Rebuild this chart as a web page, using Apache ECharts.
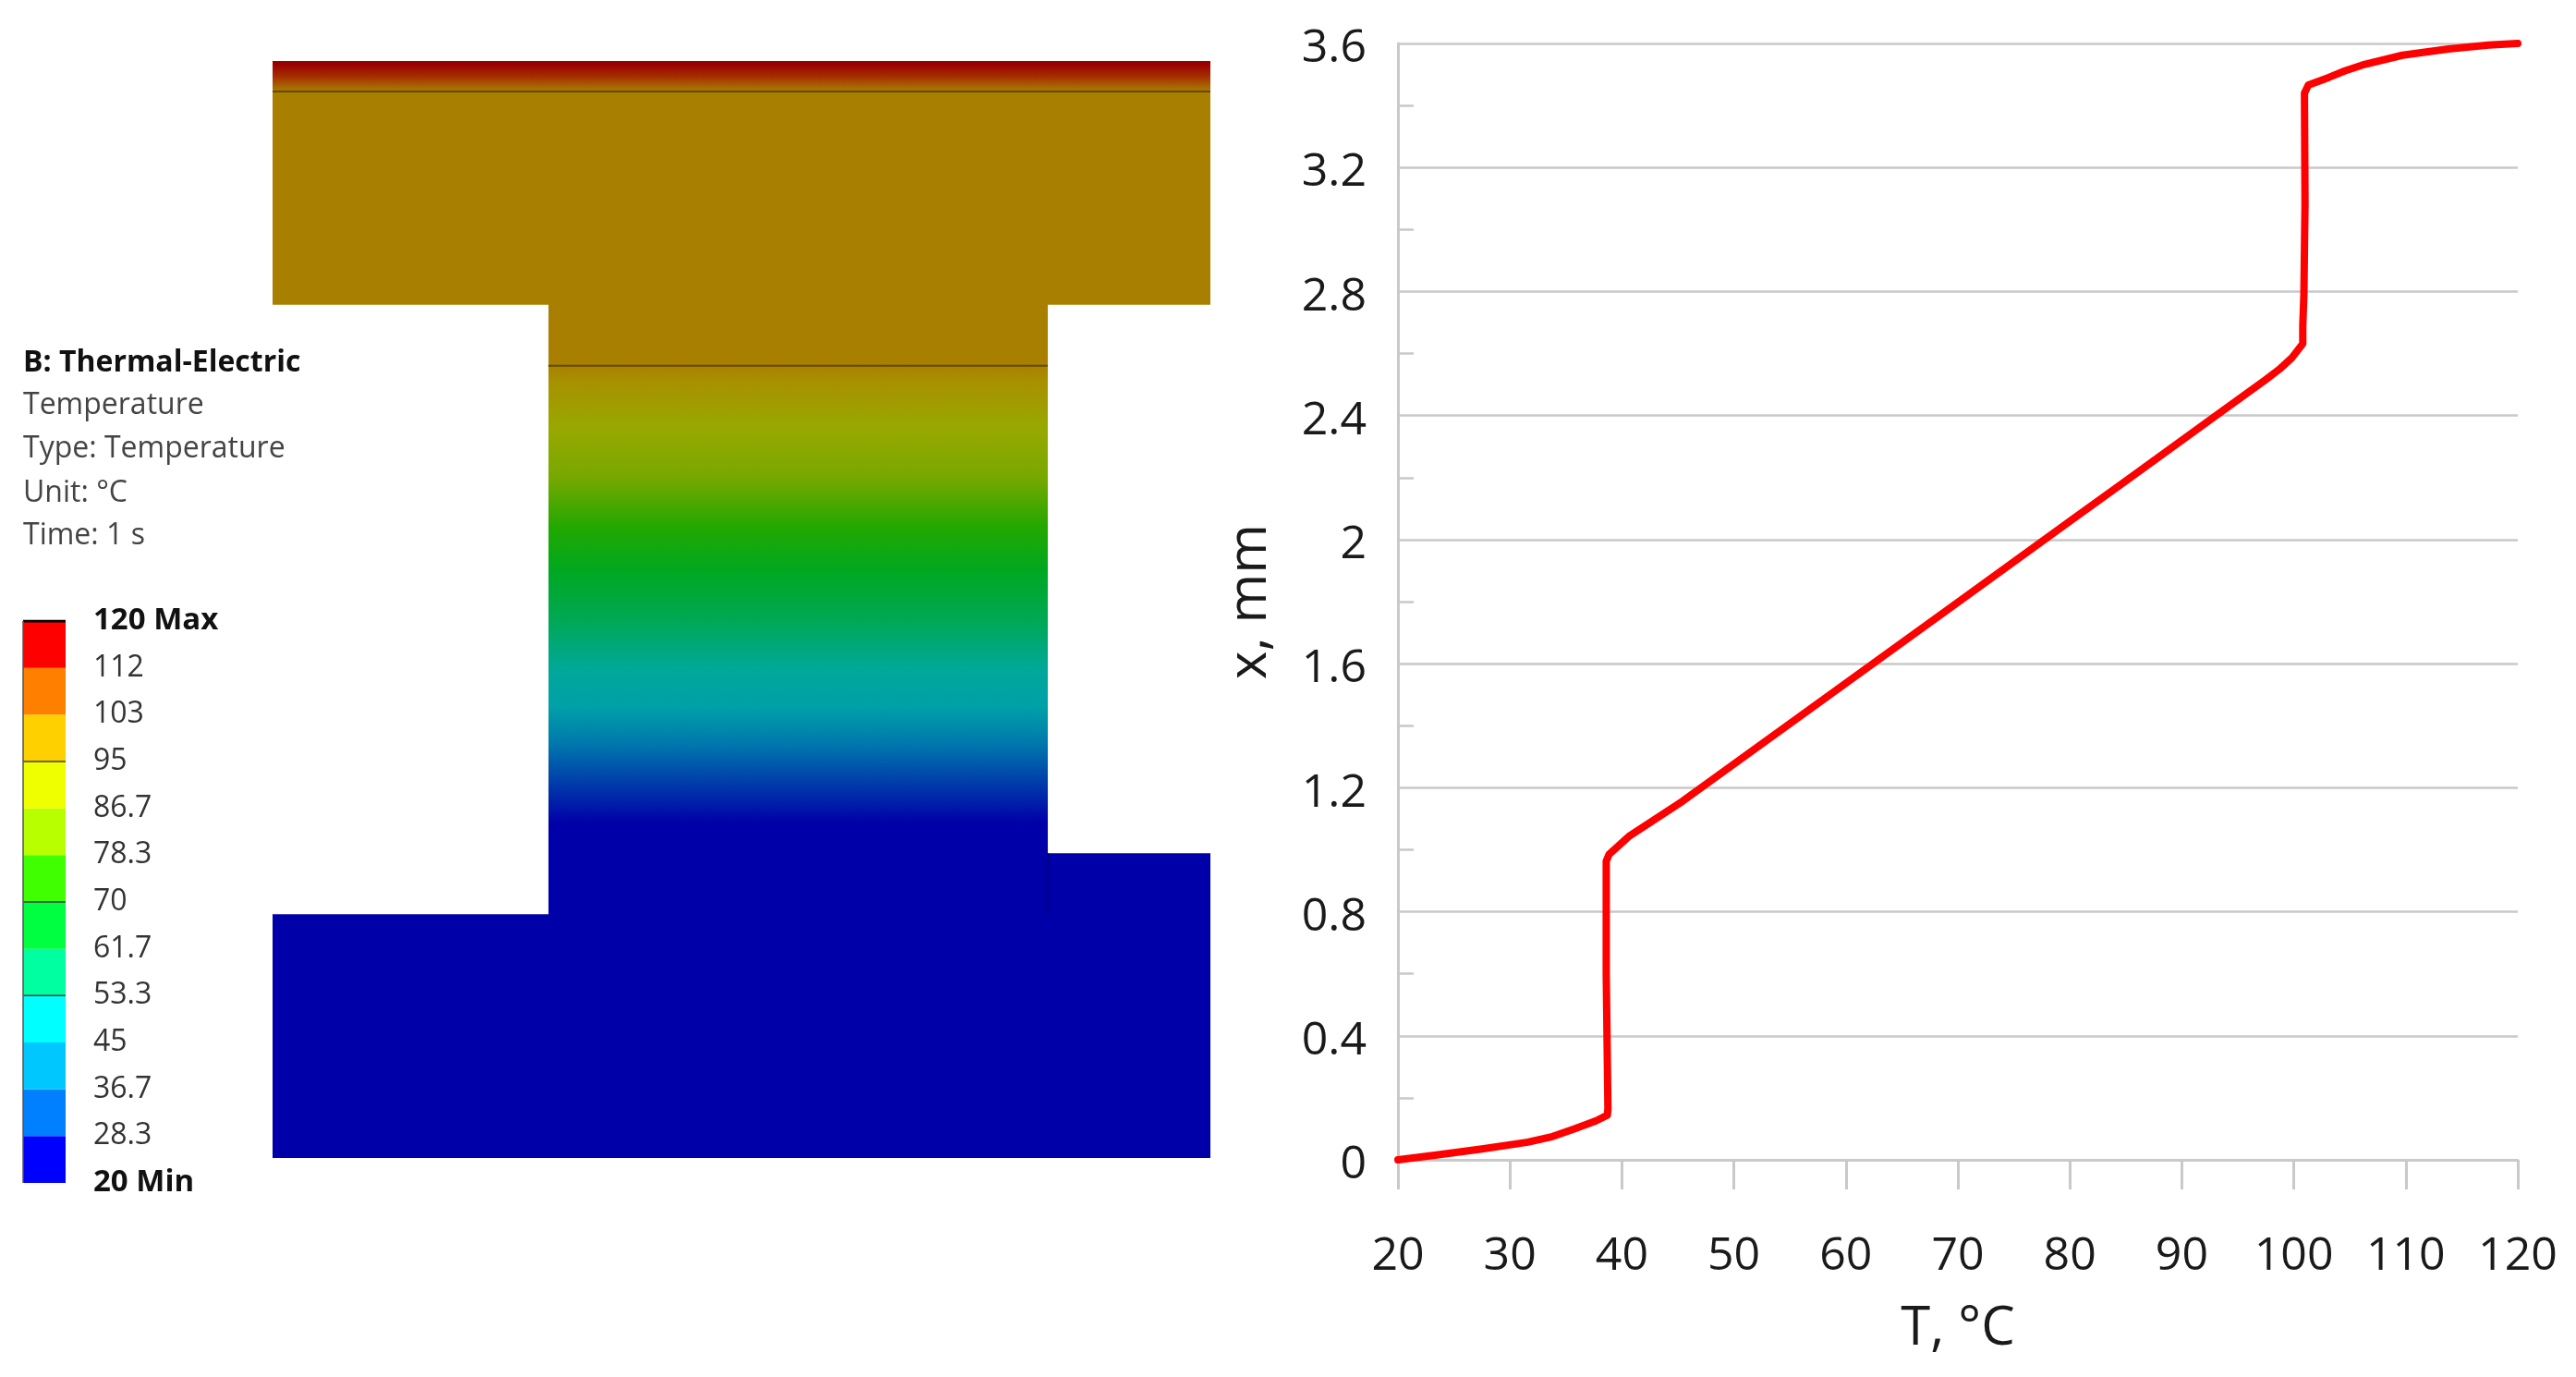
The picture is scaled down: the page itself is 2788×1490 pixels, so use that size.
<!DOCTYPE html>
<html>
<head>
    <meta charset="utf-8">
    <title>Temperature distribution</title>
    <script src="https://cdn.jsdelivr.net/npm/echarts@6/dist/echarts.min.js"></script>
    <style>
        html, body { margin: 0; padding: 0; background: #fff; }
    </style>
</head>
<body>
<div id="main" style="width: 2788px;height:1490px;"></div>
<script type="text/javascript">
    // temperature curve: T in deg C, x in mm
    var curveT = [20, 23.3, 27.5, 31.6, 33.8, 35.7, 37.7, 38.7, 38.75, 38.6, 38.6, 38.85, 40.7, 45.4,
        60, 70, 80, 85.3, 92.9, 97.5, 98.7, 99.8, 100.8, 100.8, 100.9, 101, 100.95, 101.3, 103.1, 104.6, 106.1, 109.7, 113.8, 117.4, 120];
    var curveX = [0, 0.015, 0.035, 0.057, 0.075, 0.099, 0.126, 0.144, 0.165, 0.6, 0.963, 0.985, 1.045, 1.156,
        1.537, 1.798, 2.059, 2.197, 2.396, 2.516, 2.549, 2.585, 2.632, 2.69, 2.79, 3.085, 3.44, 3.466, 3.49, 3.512, 3.53, 3.562, 3.582, 3.595, 3.6];

    // body of the model, in mm: [x from, x to, y from, y to]
    var bodyBlocks = [
        [0, 3.08, 0, 0.8],
        [2.5, 3.08, 0.7, 1.0],
        [0.906, 2.546, 0, 3.0],
        [0, 3.08, 2.8, 3.6]
    ];
    var layerLines = [
        [[0, 3.5], [3.08, 3.5]],
        [[0.906, 2.6], [2.546, 2.6]],
        [[2.546, 0.8], [2.546, 1.0]]
    ];
    // positions of the contour colours along the height, mm
    var contourX = [1.1, 1.36, 1.48, 1.607, 1.756, 1.93, 2.07, 2.235, 2.4, 2.55, 2.605, 3.5, 3.52, 3.55, 3.59];

    // colour bar
    var scaleLabels = ['20 Min', '28.3', '36.7', '45', '53.3', '61.7', '70', '78.3', '86.7', '95', '103', '112', '120 Max'];
    var scaleBands = [0, 1, 2, 3, 4, 5, 6, 7, 8, 9, 10, 11];
    var scaleDarkEdges = [6, 4, 9, 12];

    var headerLines = ['B: Thermal-Electric', 'Temperature', 'Type: Temperature', 'Unit: °C', 'Time: 1 s'];

    var contourColors = ['#0000a8', '#0078ad', '#00a0a8', '#00a898', '#00a858', '#00a820', '#22a800', '#78a800',
        '#99a800', '#a89000', '#a87f00', '#a87f00', '#a85f00', '#a42d00', '#9a0000'];
    var bandColors = ['#0000ff', '#0080ff', '#00c8ff', '#00ffff', '#00ffa0', '#00ff40', '#40ff00', '#b8ff00',
        '#f0ff00', '#ffd000', '#ff8000', '#ff0000'];
    var fontName = '"Open Sans", "Noto Sans", sans-serif';
    var gridGray = '#c9c9c9';

    function blockFill(y0, y1) {
        var stops = [];
        for (var i = contourX.length - 1; i >= 0; i--) {
            if (contourX[i] >= y0 && contourX[i] <= y1) {
                stops.push({offset: (y1 - contourX[i]) / (y1 - y0), color: contourColors[i]});
            }
        }
        if (!stops.length) {
            return y1 <= contourX[0] ? contourColors[0] : contourColors[10];
        }
        return new echarts.graphic.LinearGradient(0, 0, 0, 1, stops);
    }

    var series = [];

    // right: T(x) curve
    series.push({
        type: 'line',
        xAxisIndex: 0,
        yAxisIndex: 0,
        showSymbol: false,
        z: 5,
        lineStyle: {color: '#ff0000', width: 8, cap: 'round', join: 'round'},
        data: curveT.map(function(t, i) { return [t, curveX[i]]; })
    });

    // left: model contour
    series.push({
        type: 'custom',
        xAxisIndex: 1,
        yAxisIndex: 1,
        clip: false,
        data: bodyBlocks,
        renderItem: function(params, api) {
            var a = api.coord([api.value(0), api.value(3)]);
            var b = api.coord([api.value(1), api.value(2)]);
            return {
                type: 'rect',
                shape: {x: a[0], y: a[1], width: b[0] - a[0], height: b[1] - a[1]},
                style: {fill: blockFill(api.value(2), api.value(3))}
            };
        }
    });
    layerLines.forEach(function(seg, i) {
        series.push({
            type: 'line',
            xAxisIndex: 1,
            yAxisIndex: 1,
            showSymbol: false,
            z: 4,
            lineStyle: {color: i == 2 ? '#00007a' : '#5f4a00', width: 2},
            data: seg
        });
    });

    // colour bar
    series.push({
        type: 'custom',
        xAxisIndex: 2,
        yAxisIndex: 2,
        clip: false,
        data: scaleBands,
        renderItem: function(params, api) {
            var i = api.value(0);
            var a = api.coord([0, i + 1]);
            var b = api.coord([1, i]);
            return {
                type: 'rect',
                shape: {x: a[0], y: a[1], width: b[0] - a[0], height: b[1] - a[1]},
                style: {fill: bandColors[i]}
            };
        }
    });
    scaleDarkEdges.forEach(function(e) {
        series.push({
            type: 'line',
            xAxisIndex: 2,
            yAxisIndex: 2,
            showSymbol: false,
            z: 4,
            lineStyle: {color: e == 12 ? '#000' : '#3c3c3c', width: e == 12 ? 3 : 1.5},
            data: [[0, e], [1, e]]
        });
    });
    series.push({
        type: 'line',
        xAxisIndex: 2,
        yAxisIndex: 2,
        showSymbol: false,
        z: 4,
        lineStyle: {color: '#555', width: 1.5},
        data: [[0, 0], [0, 12]]
    });

    var headerTops = [399, 445, 492, 540, 586];
    var graphic = headerLines.map(function(line, i) {
        return {
            type: 'text',
            left: 25,
            top: headerTops[i] - 22,
            style: {
                text: line,
                font: (i == 0 ? 'bold ' : '') + '32px ' + fontName,
                fill: i == 0 ? '#111' : '#444'
            }
        };
    });

    var option = {
        backgroundColor: '#fff',
        animation: false,
        graphic: graphic,
        grid: [
            {left: 1513, top: 47, width: 1212, height: 1208},
            {left: 295, top: 66, width: 1015, height: 1187},
            {left: 25, top: 672, width: 46, height: 608}
        ],
        xAxis: [
            {
                type: 'value', gridIndex: 0, min: 20, max: 120, interval: 10,
                name: 'T, °C', nameLocation: 'middle', nameGap: 154,
                nameTextStyle: {fontFamily: fontName, fontSize: 58, color: '#1a1a1a'},
                axisLine: {onZero: false, lineStyle: {color: gridGray, width: 3}},
                axisTick: {show: true, length: 32, lineStyle: {color: gridGray, width: 3}},
                axisLabel: {margin: 80, fontFamily: fontName, fontSize: 50, color: '#1a1a1a', showMinLabel: true, showMaxLabel: true},
                splitLine: {show: false}
            },
            {type: 'value', gridIndex: 1, min: 0, max: 3.08, show: false},
            {type: 'value', gridIndex: 2, min: 0, max: 1, show: false}
        ],
        yAxis: [
            {
                type: 'value', gridIndex: 0, min: 0, max: 3.6, interval: 0.4,
                name: 'x, mm', nameLocation: 'middle', nameGap: 131, nameRotate: 90,
                nameTextStyle: {fontFamily: fontName, fontSize: 58, color: '#1a1a1a'},
                axisLine: {show: true, onZero: false, lineStyle: {color: gridGray, width: 3}},
                axisTick: {show: false, inside: true},
                minorTick: {show: true, splitNumber: 2, length: 17, lineStyle: {color: gridGray, width: 2.5}},
                axisLabel: {margin: 34, verticalAlign: 'top', lineHeight: 12, fontFamily: fontName, fontSize: 50, color: '#1a1a1a'},
                splitLine: {show: true, lineStyle: {color: gridGray, width: 2.5}}
            },
            {type: 'value', gridIndex: 1, min: 0, max: 3.6, show: false},
            {
                type: 'value', gridIndex: 2, min: 0, max: 12, interval: 1, position: 'right',
                axisLine: {show: false},
                axisTick: {show: false},
                splitLine: {show: false},
                axisLabel: {
                    margin: 30,
                    fontFamily: fontName,
                    fontSize: 32,
                    color: '#333',
                    formatter: function(v) {
                        var s = scaleLabels[v];
                        return (v == 0 || v == 12) ? '{b|' + s + '}' : s;
                    },
                    rich: {b: {fontFamily: fontName, fontSize: 33, fontWeight: 'bold', color: '#111'}}
                }
            }
        ],
        series: series
    };

    var myChart = echarts.init(document.getElementById('main'));
    myChart.setOption(option);
</script>
</body>
</html>
